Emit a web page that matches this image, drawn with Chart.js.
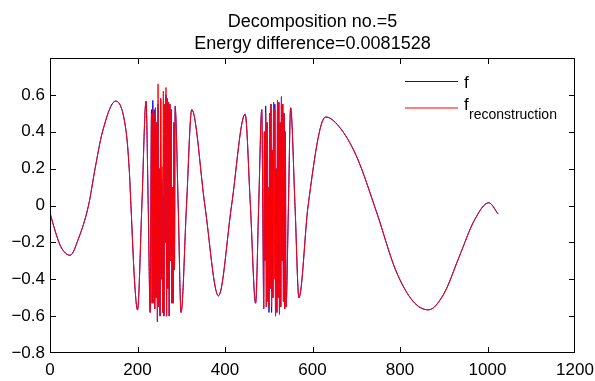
<!DOCTYPE html>
<html>
<head>
<meta charset="utf-8">
<script src="https://cdn.jsdelivr.net/npm/chart.js@4"></script>
<style>
  html, body { margin: 0; padding: 0; background: #fff; }
  canvas { display: block; }
</style>
</head>
<body>
<canvas id="myChart" width="595" height="381"></canvas>
<script>
// sample positions
const sampleX = [
  1, 12, 25, 46, 65, 88, 103, 120, 150, 174, 181, 185, 193, 200, 210, 219.5, 224.5, 229,
  // first noisy burst
  232, 233.5, 235, 236.5, 238, 239.5, 241, 242.5, 244, 245.5, 247, 248.5, 250, 251.5, 253, 254.5,
  256, 257.5, 259, 260.5, 262, 263.5, 265, 266.5, 268, 269.5, 271, 272.5, 274, 275.5, 277, 278.5,
  280, 281.5, 283, 284.5, 286,
  293, 299.6, 312, 324, 354, 385, 415, 446, 458, 470, 477, 484,
  // second noisy burst
  487, 488.5, 490, 491.5, 493, 494.5, 496, 497.5, 499, 500.5, 502, 503.5, 505, 506.5, 508, 509.5,
  511, 512.5, 514, 515.5, 517, 518.5, 520, 521.5, 523, 524.5, 526, 527.5, 529, 530.5, 532, 533.5,
  535, 536.5, 538, 539.5,
  545, 550, 560, 569, 590, 630, 660, 700, 747, 790, 830, 865, 900, 935, 970, 1003, 1024
];

// original signal f
const fValues = [
  -0.049, -0.14, -0.225, -0.27, -0.18, 0, 0.2, 0.4, 0.566, 0.4, 0.2, 0, -0.4, -0.566, 0, 0.565, 0, -0.58,
  0.52, -0.53, 0.57, -0.45, 0.52, -0.56, 0.53, -0.50, 0.45, -0.63, 0.55, -0.55, 0.20, -0.60, 0.58, -0.40,
  0.14, -0.58, 0.05, -0.60, 0.55, -0.20, 0.60, -0.60, 0.58, -0.45, 0.56, -0.60, 0.55, -0.30, 0.52, -0.53,
  0.10, -0.53, 0.45, -0.35, 0.54,
  0, -0.58, 0, 0.52, 0, -0.49, 0, 0.495, 0, -0.53, 0, 0.52,
  -0.20, -0.56, 0.40, -0.30, 0.54, -0.55, 0.45, -0.52, 0.05, -0.58, 0.50, -0.45, 0.55, -0.58, 0.30, -0.50,
  0.56, 0.30, 0.55, -0.60, 0.20, -0.58, 0.57, -0.50, 0.56, -0.59, 0.45, -0.55, 0.59, -0.30, 0.55, -0.52,
  0.50, -0.56, 0.40, -0.55,
  0, 0.53, 0, -0.50, 0, 0.48, 0.43, 0.27, -0.04, -0.35, -0.52, -0.566, -0.48, -0.28, -0.08, 0.015, -0.045
];

// reconstruction
const recValues = [
  -0.049, -0.14, -0.225, -0.27, -0.18, 0, 0.2, 0.4, 0.566, 0.4, 0.2, 0, -0.4, -0.566, 0, 0.565, 0, -0.58,
  0.50, -0.53, 0.52, -0.53, 0.50, -0.56, 0.53, -0.50, 0.45, -0.63, 0.66, -0.55, 0.20, -0.60, 0.58, -0.40,
  0.21, -0.58, 0.62, -0.60, 0.55, -0.20, 0.64, -0.60, 0.58, -0.45, 0.56, -0.60, 0.55, -0.30, 0.52, -0.53,
  0.10, -0.53, 0.45, -0.35, 0.53,
  0, -0.58, 0, 0.52, 0, -0.49, 0, 0.495, 0, -0.53, 0, 0.52,
  -0.20, -0.56, 0.40, -0.30, 0.50, -0.55, 0.45, -0.52, 0.10, -0.55, 0.50, -0.45, 0.55, -0.55, 0.30, -0.50,
  0.56, -0.40, 0.52, -0.60, 0.20, -0.58, 0.57, -0.50, 0.56, -0.59, 0.45, -0.55, 0.59, -0.30, 0.55, -0.52,
  0.50, -0.56, 0.40, -0.55,
  0, 0.53, 0, -0.50, 0, 0.48, 0.43, 0.27, -0.04, -0.35, -0.52, -0.566, -0.48, -0.28, -0.08, 0.015, -0.045
];

const xTicks = [0, 200, 400, 600, 800, 1000, 1200];
const yTicks = [-0.8, -0.6, -0.4, -0.2, 0, 0.2, 0.4, 0.6, 0.8];
const titleLines = ['Decomposition no.=5', 'Energy difference=0.0081528'];

const FONT = '"Liberation Sans", Arial, Helvetica, sans-serif';

function fmt(v) {
  if (Math.abs(v) < 1e-9) return '0';
  const s = (Math.round(v * 10) / 10).toString();
  return s.replace('-', '\u2212');
}

// box, inward ticks, title and legend like a matlab figure
const matlabFrame = {
  id: 'matlabFrame',
  afterDraw(chart) {
    const ctx = chart.ctx;
    const a = chart.chartArea;
    const x = chart.scales.x, y = chart.scales.y;
    const L = Math.round(a.left), R = Math.round(a.right) - 1;
    const T = Math.round(a.top), B = Math.round(a.bottom) - 1;
    ctx.save();
    ctx.fillStyle = '#000';
    // box
    ctx.fillRect(L, T, R - L + 1, 1);
    ctx.fillRect(L, B, R - L + 1, 1);
    ctx.fillRect(L, T, 1, B - T + 1);
    ctx.fillRect(R, T, 1, B - T + 1);
    // inward ticks
    for (const v of xTicks) {
      const px = Math.min(R, Math.round(x.getPixelForValue(v)));
      ctx.fillRect(px, B - 5, 1, 5);
      ctx.fillRect(px, T + 1, 1, 5);
    }
    for (const v of yTicks) {
      const py = Math.min(B, Math.round(y.getPixelForValue(v)));
      ctx.fillRect(L + 1, py, 5, 1);
      ctx.fillRect(R - 5, py, 5, 1);
    }

    // title
    ctx.textAlign = 'center';
    ctx.textBaseline = 'alphabetic';
    ctx.font = '18px ' + FONT;
    const cx = (a.left + a.right) / 2;
    ctx.fillText(titleLines[0], cx, 27);
    ctx.fillText(titleLines[1], cx, 49);

    // legend
    ctx.beginPath();
    ctx.strokeStyle = '#0000ff';
    ctx.lineWidth = 1;
    ctx.moveTo(405, 81.5); ctx.lineTo(458, 81.5);
    ctx.stroke();
    ctx.beginPath();
    ctx.strokeStyle = 'rgba(255,0,0,0.5)';
    ctx.lineWidth = 2;
    ctx.moveTo(405, 108); ctx.lineTo(458, 108);
    ctx.stroke();
    ctx.textAlign = 'left';
    ctx.font = '17px ' + FONT;
    ctx.fillText('f', 464, 88);
    ctx.fillText('f', 464, 110);
    ctx.font = '14px ' + FONT;
    ctx.fillText('reconstruction', 469, 118.5);
    ctx.restore();
  }
};

const ctx = document.getElementById('myChart').getContext('2d');
const myChart = new Chart(ctx, {
  type: 'line',
  data: {
    datasets: [{
      label: 'f_reconstruction',
      data: sampleX.map((v, i) => ({ x: v, y: recValues[i] })),
      borderColor: '#ff0000',
      borderWidth: 1,
      order: 0
    }, {
      label: 'f',
      data: sampleX.map((v, i) => ({ x: v, y: fValues[i] })),
      borderColor: '#0000ff',
      borderWidth: 1,
      order: 1
    }]
  },
  options: {
    responsive: false,
    animation: false,
    events: [],
    layout: { padding: { top: 58, right: 20, left: 0, bottom: 0 } },
    elements: {
      point: { radius: 0 },
      line: { cubicInterpolationMode: 'monotone', fill: false }
    },
    plugins: {
      legend: { display: false },
      title: { display: false },
      tooltip: { enabled: false }
    },
    scales: {
      x: {
        type: 'linear',
        min: 0, max: 1200,
        grid: { display: false, drawTicks: false, tickLength: 0 },
        border: { display: false },
        afterBuildTicks: s => { s.ticks = xTicks.map(v => ({ value: v })); },
        afterFit: s => { s.height = 28; s.paddingLeft = 0; s.paddingRight = 0; },
        ticks: {
          autoSkip: false, maxRotation: 0, padding: 7, color: '#000',
          font: { family: FONT, size: 17 },
          callback: v => String(v)
        }
      },
      y: {
        type: 'linear',
        min: -0.8, max: 0.8,
        grid: { display: false, drawTicks: false, tickLength: 0 },
        border: { display: false },
        afterBuildTicks: s => { s.ticks = yTicks.map(v => ({ value: v })); },
        afterFit: s => { s.width = 50; s.paddingTop = 0; s.paddingBottom = 0; },
        ticks: {
          autoSkip: false, padding: 5, color: '#000',
          font: { family: FONT, size: 17 },
          callback: v => (v > 0.75 ? '' : fmt(v))
        }
      }
    }
  },
  plugins: [matlabFrame]
});
</script>
</body>
</html>
